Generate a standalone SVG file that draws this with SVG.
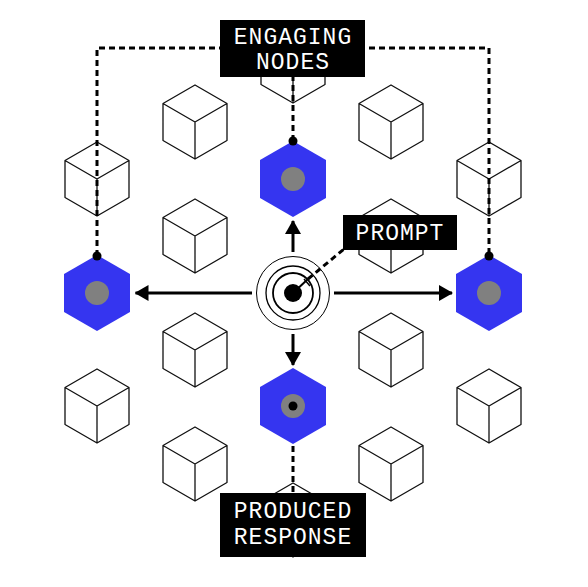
<svg xmlns="http://www.w3.org/2000/svg" width="588" height="587" viewBox="0 0 588 587">
<style>
.cube{fill:#fff;stroke:#111;stroke-width:1.3;stroke-linejoin:round}
.hex{fill:#3535F0}
.core{fill:#808080}
.dash{fill:none;stroke:#000;stroke-width:3;stroke-dasharray:6 4}
.arr{fill:none;stroke:#000;stroke-width:3}
.lbl{fill:#000}
.txt{fill:#fff;font-family:"Liberation Mono","DejaVu Sans Mono",monospace;font-size:23px;text-anchor:middle;letter-spacing:1px}
</style>
<defs>
<g id="cube"><path class="cube" d="M0,-37 L32,-18.5 L32,18.5 L0,37 L-32,18.5 L-32,-18.5 Z M-32,-18.5 L0,0 L32,-18.5 M0,0 L0,37"/></g>
<g id="hexn"><path class="hex" d="M0,-38 L33,-19 L33,19 L0,38 L-33,19 L-33,-19 Z"/><circle class="core" r="12"/></g>
<marker id="ah" viewBox="0 0 14 16" refX="13" refY="8" markerWidth="14" markerHeight="16" orient="auto" markerUnits="userSpaceOnUse"><path d="M0,0 L14,8 L0,16 Z" fill="#000"/></marker>
</defs>
<rect width="588" height="587" fill="#fff"/>
<g id="cubes">
<g id="cube-1"><use href="#cube" x="195" y="122"/></g>
<g id="cube-2"><use href="#cube" x="195" y="236"/></g>
<g id="cube-3"><use href="#cube" x="195" y="350"/></g>
<g id="cube-4"><use href="#cube" x="195" y="464"/></g>
<g id="cube-5"><use href="#cube" x="391" y="122"/></g>
<g id="cube-6"><use href="#cube" x="391" y="236"/></g>
<g id="cube-7"><use href="#cube" x="391" y="350"/></g>
<g id="cube-8"><use href="#cube" x="391" y="464"/></g>
<g id="cube-9"><use href="#cube" x="97" y="179"/></g>
<g id="cube-10"><use href="#cube" x="97" y="406"/></g>
<g id="cube-11"><use href="#cube" x="489" y="179"/></g>
<g id="cube-12"><use href="#cube" x="489" y="406"/></g>
<g id="cube-13"><use href="#cube" x="293" y="66"/></g>
<g id="cube-14"><use href="#cube" x="293" y="520"/></g>
</g>
<g id="connectors">
<path class="dash" d="M97,256 V48 H489 V256"/>
<path class="dash" d="M293,141 V76"/>
<path class="dash" d="M293,406 V494"/>
<path class="dash" d="M308,279 L344,249"/>
<path d="M293,293 L308,279" stroke="#000" stroke-width="2"/>
<path d="M304,279 L310,286" stroke="#000" stroke-width="1.5"/>
<path class="arr" d="M293,252 V221" marker-end="url(#ah)"/>
<path class="arr" d="M293,334 V365" marker-end="url(#ah)"/>
<path class="arr" d="M252,293 H135.5" marker-end="url(#ah)"/>
<path class="arr" d="M334,293 H452" marker-end="url(#ah)"/>
</g>
<g id="node-top"><use href="#hexn" x="293" y="179"/><circle cx="293" cy="141" r="4.5"/></g>
<g id="node-left"><use href="#hexn" x="97" y="293"/><circle cx="97" cy="256" r="4.5"/></g>
<g id="node-right"><use href="#hexn" x="489" y="293"/><circle cx="489" cy="256" r="4.5"/></g>
<g id="node-bottom"><use href="#hexn" x="293" y="406"/><circle cx="293" cy="406" r="4.5"/></g>
<g id="prompt-source">
<circle cx="293" cy="293" r="36.5" fill="none" stroke="#000" stroke-width="1"/>
<circle cx="293" cy="293" r="27" fill="none" stroke="#000" stroke-width="1.3"/>
<circle cx="293" cy="293" r="20" fill="none" stroke="#000" stroke-width="1.8"/>
<circle cx="293" cy="293" r="9" fill="#000"/>
</g>
<g id="label-engaging">
<rect class="lbl" x="220" y="20" width="145" height="57"/>
<text class="txt" x="293" y="44">ENGAGING</text>
<text class="txt" x="293" y="69">NODES</text>
</g>
<g id="label-prompt">
<rect class="lbl" x="343" y="215" width="114" height="35"/>
<text class="txt" x="400" y="240">PROMPT</text>
</g>
<g id="label-response">
<rect class="lbl" x="220" y="493" width="146" height="64"/>
<text class="txt" x="293" y="518">PRODUCED</text>
<text class="txt" x="293" y="544">RESPONSE</text>
</g>
</svg>
